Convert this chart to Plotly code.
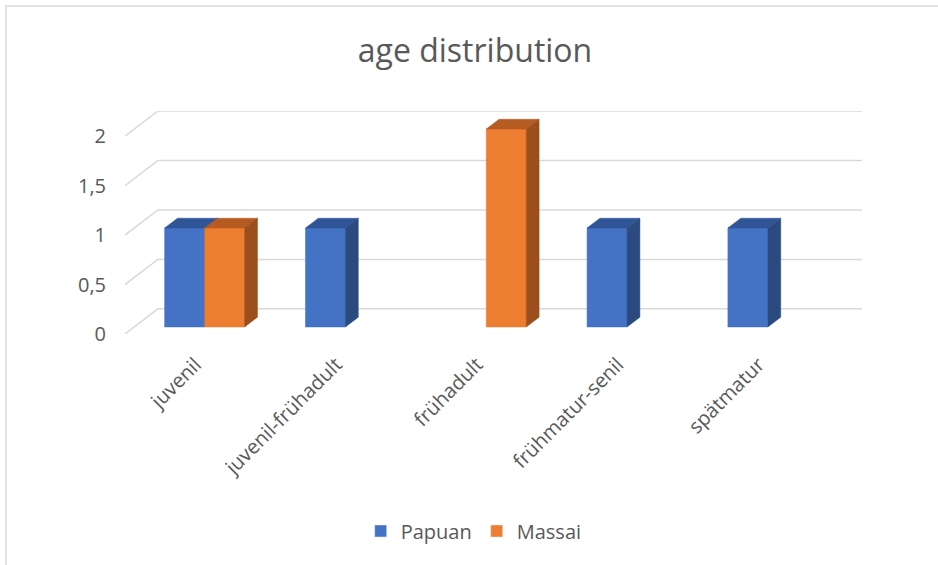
import plotly.graph_objects as go

categories = ["juvenil", "juvenil-frühadult", "frühadult", "frühmatur-senil", "spätmatur"]
papuan = [1, 1, 0, 1, 1]
massai = [1, 0, 2, 0, 0]
series_names = ["Papuan", "Massai"]
y_ticks = [0, 0.5, 1, 1.5, 2]
y_ticktext = ["0", "0,5", "1", "1,5", "2"]

# 3D projection parameters (in data units)
DX = 0.234   # depth offset in category units
DY = 0.254   # depth offset in value units
F0, F1 = 0.28, 0.67   # bar front/back depth fraction
BW = 0.284   # bar width (category units)

colors = {
    "Papuan": ("#4472C4", "#2F5597", "#2B4A7F"),
    "Massai": ("#ED7D31", "#B65B22", "#9C4F1C"),
}

fig = go.Figure()

# Back-wall gridlines + left side diagonals
grid_col = "#D9D9D9"
gx, gy = [], []
for v in y_ticks:
    gx += [-0.5, -0.5 + DX, len(categories) - 0.5 + DX, None]
    gy += [v, v + DY, v + DY, None]
fig.add_trace(go.Scatter(x=gx, y=gy, mode="lines", line=dict(color=grid_col, width=1.5),
                         hoverinfo="skip", showlegend=False))

def poly(xs, ys, color, name):
    fig.add_trace(go.Scatter(x=xs + [xs[0]], y=ys + [ys[0]], fill="toself", fillcolor=color,
                             mode="lines", line=dict(color=color, width=0.5),
                             hoverinfo="skip", showlegend=False, name=name))

for i, cat in enumerate(categories):
    for s, (name, vals) in enumerate(zip(series_names, [papuan, massai])):
        v = vals[i]
        if v == 0:
            continue
        front, top, side = colors[name]
        x0 = i - BW + s * BW + F0 * DX
        x1 = x0 + BW
        b0 = F0 * DY
        ddx = (F1 - F0) * DX
        ddy = (F1 - F0) * DY
        # front face
        poly([x0, x1, x1, x0], [b0, b0, b0 + v, b0 + v], front, name)
        # top face
        poly([x0, x1, x1 + ddx, x0 + ddx], [b0 + v, b0 + v, b0 + v + ddy, b0 + v + ddy], top, name)
        # side face
        poly([x1, x1 + ddx, x1 + ddx, x1], [b0, b0 + ddy, b0 + v + ddy, b0 + v], side, name)

# legend entries
for name in series_names:
    fig.add_trace(go.Bar(x=[None], y=[None], name=name, marker_color=colors[name][0]))

font_fam = "Open Sans, sans-serif"
fig.update_layout(
    width=938, height=565,
    margin=dict(l=125, r=76, t=111, b=231),
    paper_bgcolor="white", plot_bgcolor="white",
    title=dict(text="age distribution", x=475 / 938, xref="container", xanchor="center",
               y=1 - 51 / 565, yref="container", yanchor="middle",
               font=dict(family=font_fam, size=32, color="#595959")),
    showlegend=True,
    legend=dict(orientation="h", x=0.505, xanchor="center", xref="container",
                y=1 - 531 / 565, yref="container", yanchor="middle",
                font=dict(family=font_fam, size=20, color="#595959"),
                itemwidth=30, tracegroupgap=0),
    xaxis=dict(range=[-0.5, len(categories) - 0.5 + DX], showgrid=False, zeroline=False,
               showline=False, tickmode="array", tickvals=list(range(len(categories))),
               ticktext=categories, tickangle=-45, ticks="outside", ticklen=10,
               tickcolor="rgba(0,0,0,0)",
               tickfont=dict(family=font_fam, size=20, color="#595959")),
    yaxis=dict(range=[0, 2 + DY], showgrid=False, zeroline=False, showline=False,
               tickmode="array", tickvals=y_ticks, ticktext=y_ticktext,
               ticks="outside", ticklen=14, tickcolor="rgba(0,0,0,0)",
               tickfont=dict(family=font_fam, size=20, color="#595959")),
    shapes=[dict(type="rect", xref="paper", yref="paper",
                 x0=(6 - 125) / 737, x1=(960 - 125) / 737,
                 y0=(334 + 5 - 580) / 223 * 1, y1=(334 - 6) / 223,
                 line=dict(color="#D9D9D9", width=1.5), fillcolor="rgba(0,0,0,0)", layer="below")],
)

fig.write_html("out.html")
